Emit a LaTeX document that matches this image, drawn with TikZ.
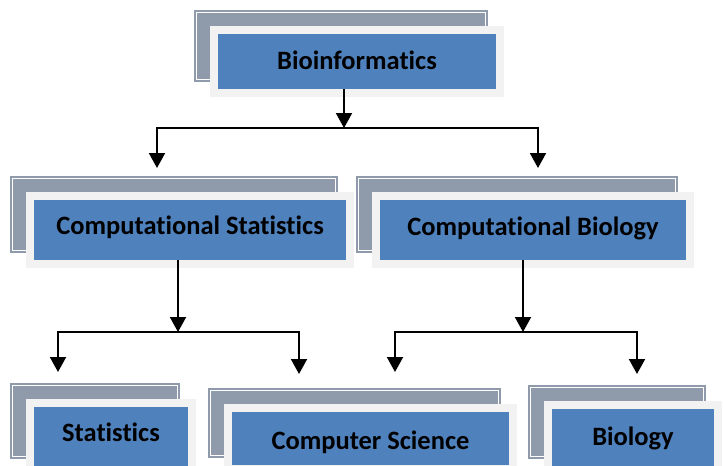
\documentclass[tikz,border=0pt]{standalone}
\usepackage{fontspec}
\setmainfont{Carlito}[Ligatures={NoCommon}]
\usetikzlibrary{arrows.meta,calc}
\definecolor{boxblue}{RGB}{79,129,189}
\definecolor{slate}{RGB}{143,155,171}
\definecolor{framegray}{RGB}{242,242,242}
\pgfdeclarelayer{shade}
\pgfdeclarelayer{frame}
\pgfsetlayers{shade,frame,main}
\tikzset{
  topic/.style={rectangle, fill=boxblue, inner sep=0pt,
    font=\fontsize{26.5pt}{30pt}\selectfont\bfseries,
    text height=16.7pt, text depth=0pt},
  conn/.style={line width=2pt, black},
  tip/.tip={Triangle[width=16pt,length=15pt]},
  arr/.style={conn, -tip},
  fork/.style={conn, tip-tip},
}
% slate card behind each topic box, plus the light frame round it
\newcommand\stackedbox[1]{%
  \begin{pgfonlayer}{shade}
    \fill[slate] ($(#1.north west)+(-24pt,24pt)$) coordinate (#1-nw)
      rectangle ($(#1.south east)+(-8pt,7pt)$) coordinate (#1-se);
    \draw[white, line width=0.8pt] ($(#1-nw)+(3pt,-3pt)$) rectangle ($(#1-se)+(-3pt,3pt)$);
  \end{pgfonlayer}
  \begin{pgfonlayer}{frame}
    \fill[framegray] ($(#1.north west)+(-8pt,8pt)$) rectangle ($(#1.south east)+(8pt,-8pt)$);
  \end{pgfonlayer}}
\begin{document}
\begin{tikzpicture}[x=1pt, y=-1pt]
  \useasboundingbox (0,0) rectangle (724,466);
  \clip (0,0) rectangle (724,466);

  % topic boxes
  \node[topic, minimum width=278pt, minimum height=55pt, text depth=1pt] (bio) at (357,61.5) {Bioinformatics};
  \node[topic, minimum width=312pt, minimum height=60pt, text depth=7pt] (cstat) at (190,230) {Computational Statistics};
  \node[topic, minimum width=306pt, minimum height=60pt, text depth=5pt] (cbio) at (533,230) {Computational Biology};
  \node[topic, minimum width=154pt, minimum height=59pt, text depth=6pt] (stat) at (111,436.5) {Statistics};
  \node[topic, minimum width=277pt, minimum height=53pt, text height=21.7pt] (csci) at (370.5,438.5) {Computer Science};
  \node[topic, minimum width=162pt, minimum height=57pt] (biol) at (633,437.5) {Biology};

  \foreach \n in {bio,cstat,cbio,stat,csci,biol} {\stackedbox{\n}}

  % first split
  \coordinate (j0) at (344,128);
  \coordinate (j0l) at (157,128);
  \coordinate (j0r) at (538,128);
  \coordinate (t0l) at (157,168);
  \coordinate (t0r) at (538,168);
  \draw[arr] (j0 |- bio.south) -- (j0);
  \draw[fork] (t0l) -- (j0l) -- (j0r) -- (t0r);

  % split below Computational Statistics
  \coordinate (j1) at (178,332);
  \coordinate (j1l) at (58,332);
  \coordinate (j1r) at (299,332);
  \coordinate (t1l) at (58,372);
  \coordinate (t1r) at (299,374);
  \draw[arr] (j1 |- cstat.south) -- (j1);
  \draw[fork] (t1l) -- (j1l) -- (j1r) -- (t1r);

  % split below Computational Biology
  \coordinate (j2) at (523,332);
  \coordinate (j2l) at (395,332);
  \coordinate (j2r) at (637,332);
  \coordinate (t2l) at (395,372);
  \coordinate (t2r) at (637,374);
  \draw[arr] (j2 |- cbio.south) -- (j2);
  \draw[fork] (t2l) -- (j2l) -- (j2r) -- (t2r);
\end{tikzpicture}
\end{document}
